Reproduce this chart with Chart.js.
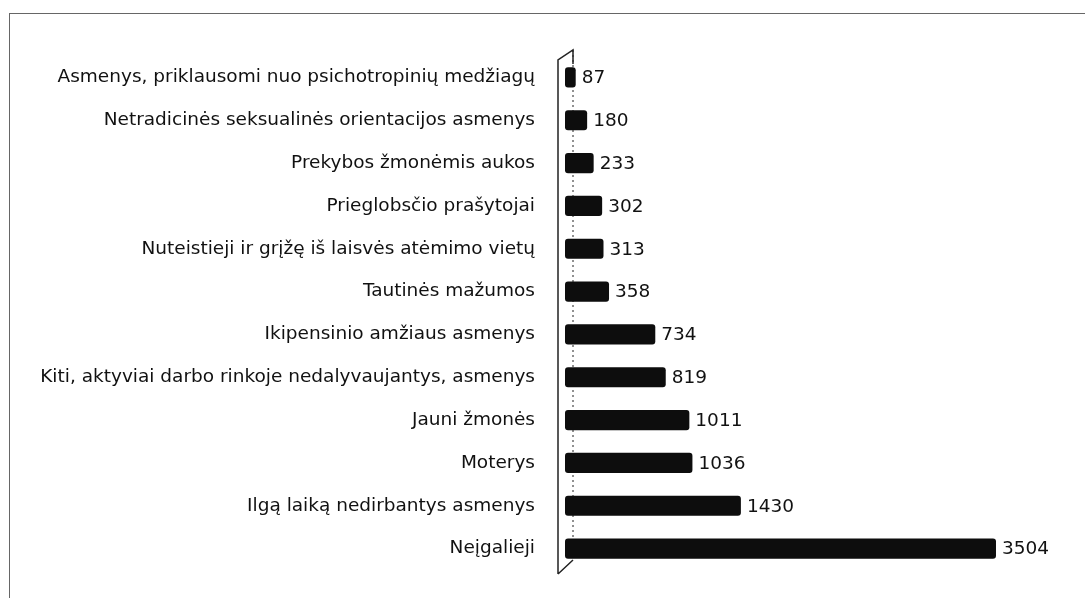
<!DOCTYPE html>
<html>
<head>
<meta charset="utf-8">
<script src="https://cdn.jsdelivr.net/npm/chart.js@4"></script>
<style>
  html, body { margin: 0; padding: 0; background: #fff; overflow: hidden; }
  #wrap { position: relative; width: 1085px; height: 598px; }
  #frame {
    position: absolute; left: 9px; top: 13px; width: 1090px; height: 600px;
    border-left: 1px solid #666; border-top: 1px solid #666;
  }
  canvas { position: absolute; left: 0; top: 0; }
</style>
</head>
<body>
<div id="wrap">
  <div id="frame"></div>
  <canvas id="chart" width="1085" height="598"></canvas>
</div>
<script>
const categories = [
    'Asmenys, priklausomi nuo psichotropinių medžiagų',
    'Netradicinės seksualinės orientacijos asmenys',
    'Prekybos žmonėmis aukos',
    'Prieglobsčio prašytojai',
    'Nuteistieji ir grįžę iš laisvės atėmimo vietų',
    'Tautinės mažumos',
    'Ikipensinio amžiaus asmenys',
    'Kiti, aktyviai darbo rinkoje nedalyvaujantys, asmenys',
    'Jauni žmonės',
    'Moterys',
    'Ilgą laiką nedirbantys asmenys',
    'Neįgalieji'
];
const values = [87, 180, 233, 302, 313, 358, 734, 819, 1011, 1036, 1430, 3504];

const fontFamily = "'DejaVu Sans', sans-serif";

document.addEventListener('DOMContentLoaded', () => {
    const ctx = document.getElementById('chart').getContext('2d');

    // pseudo-3D axis wall like the office chart
    const axisWall = {
        id: 'axisWall',
        beforeDatasetsDraw(chart) {
            const { ctx, chartArea } = chart;
            const fx = chartArea.left - 7;
            const bx = chartArea.left + 8;
            ctx.save();
            ctx.strokeStyle = '#222';
            ctx.lineWidth = 1.5;
            ctx.beginPath();
            ctx.moveTo(fx, chartArea.bottom + 4);
            ctx.lineTo(fx, chartArea.top + 4);
            ctx.lineTo(bx, chartArea.top - 6);
            ctx.lineTo(bx, chartArea.top + 8);
            ctx.moveTo(fx, chartArea.bottom + 4);
            ctx.lineTo(bx, chartArea.bottom - 10);
            ctx.stroke();
            ctx.setLineDash([2, 3]);
            ctx.lineWidth = 1;
            ctx.beginPath();
            ctx.moveTo(bx, chartArea.top - 6);
            ctx.lineTo(bx, chartArea.bottom - 10);
            ctx.stroke();
            ctx.restore();
        }
    };

    const valueLabels = {
        id: 'valueLabels',
        afterDatasetsDraw(chart) {
            const { ctx } = chart;
            const meta = chart.getDatasetMeta(0);
            ctx.save();
            ctx.fillStyle = '#111';
            ctx.font = '18.5px ' + fontFamily;
            ctx.textAlign = 'left';
            ctx.textBaseline = 'middle';
            meta.data.forEach((bar, i) => {
                ctx.fillText(String(values[i]), bar.x + 6, bar.y + 1);
            });
            ctx.restore();
        }
    };

    new Chart(ctx, {
        type: 'bar',
        data: {
            labels: categories,
            datasets: [{
                data: values,
                backgroundColor: '#0d0d0d',
                borderRadius: 3,
                borderSkipped: false,
                categoryPercentage: 1,
                barPercentage: 0.47,
            }],
        },
        options: {
            indexAxis: 'y',
            responsive: false,
            animation: false,
            layout: { padding: { left: 0, right: 28, top: 56, bottom: 28 } },
            plugins: {
                legend: { display: false },
                tooltip: { enabled: false },
            },
            scales: {
                x: {
                    display: false,
                    min: 0,
                    max: 4000,
                    afterFit(scale) {
                        scale.height = 0;
                    },
                },
                y: {
                    grid: { display: false },
                    border: { display: false },
                    ticks: {
                        color: '#111',
                        padding: 22,
                        font: { family: fontFamily, size: 18.5 },
                    },
                    afterFit(scale) {
                        scale.width = 565;
                        scale.paddingTop = 0;
                        scale.paddingBottom = 0;
                    },
                },
            },
        },
        plugins: [axisWall, valueLabels],
    });
});
</script>
</body>
</html>
